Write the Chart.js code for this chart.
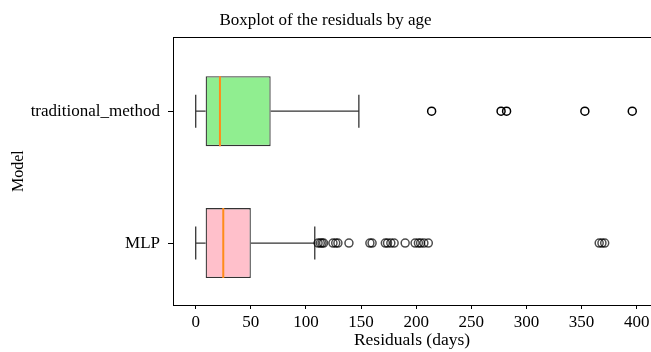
<!DOCTYPE html>
<html>
<head>
<meta charset="utf-8">
<script src="https://cdn.jsdelivr.net/npm/chart.js@4"></script>
<style>
  html, body { margin: 0; padding: 0; background: #fff; }
  #wrap { width: 651px; height: 352px; position: relative; }
</style>
</head>
<body>
<div id="wrap"><canvas id="chart"></canvas></div>
<script>
// Boxplot of residuals, one row per model (y = 1 -> MLP, y = 2 -> traditional_method)
const models = ['MLP', 'traditional_method'];
const boxColors = ['#ffc0cb', '#90ee90'];
const whiskerLow = [0, 0];
const q1 = [9, 9];
const medians = [25, 22];
const q3 = [50, 68];
const whiskerHigh = [108, 148];
const outliersMLP = [111, 113, 114.6, 116, 124.5, 127, 129, 139, 158, 160, 172, 174, 177, 180, 190, 199, 202, 204, 207, 211, 366, 368.5, 371];
const outliersTraditional = [214, 277, 282, 353, 396];
const xTicks = [0, 50, 100, 150, 200, 250, 300, 350, 400];

const BOX_HALF = 0.265;
const CAP_HALF = 0.125;
const FONT = 'Liberation Serif';

Chart.defaults.font.family = FONT;
Chart.defaults.color = '#000';

// build line segments (null points break the line)
function segs(list){
  const out = [];
  list.forEach((s, i) => {
    if(i > 0) out.push({x: null, y: null});
    out.push({x: s[0], y: s[1]}, {x: s[2], y: s[3]});
  });
  return out;
}

const whiskerSegs = [];
const medianSegs = [];
models.forEach((m, i) => {
  const pos = i + 1;
  whiskerSegs.push([whiskerLow[i], pos, q1[i], pos]);
  whiskerSegs.push([q3[i], pos, whiskerHigh[i], pos]);
  whiskerSegs.push([whiskerLow[i], pos - CAP_HALF, whiskerLow[i], pos + CAP_HALF]);
  whiskerSegs.push([whiskerHigh[i], pos - CAP_HALF, whiskerHigh[i], pos + CAP_HALF]);
  medianSegs.push([medians[i], pos - BOX_HALF, medians[i], pos + BOX_HALF]);
});

const ctx = document.getElementById('chart').getContext('2d');
const chart = new Chart(ctx, {
  type: 'scatter',
  data: {
    datasets: [
      {
        type: 'line',
        label: 'median',
        data: segs(medianSegs),
        borderColor: '#ff8c1a',
        borderWidth: 2,
        pointRadius: 0,
        spanGaps: false,
        order: 0
      },
      {
        label: 'outliers MLP',
        data: outliersMLP.map(v => ({x: v, y: 1})),
        pointRadius: 4,
        pointBorderWidth: 1.5,
        borderColor: 'rgba(0,0,0,0.7)',
        backgroundColor: 'rgba(0,0,0,0)',
        order: 1
      },
      {
        label: 'outliers traditional',
        data: outliersTraditional.map(v => ({x: v, y: 2})),
        pointRadius: 4,
        pointBorderWidth: 1.5,
        borderColor: '#000',
        backgroundColor: 'rgba(0,0,0,0)',
        order: 1
      },
      {
        type: 'bar',
        label: 'box',
        indexAxis: 'y',
        data: models.map((m, i) => ({x: [q1[i], q3[i]], y: i + 1})),
        backgroundColor: boxColors,
        borderColor: '#333',
        borderWidth: 1.3,
        borderSkipped: false,
        barPercentage: BOX_HALF * 2,
        categoryPercentage: 1,
        order: 2
      },
      {
        type: 'line',
        label: 'whiskers',
        data: segs(whiskerSegs),
        borderColor: '#333',
        borderWidth: 1.3,
        pointRadius: 0,
        spanGaps: false,
        order: 3
      }
    ]
  },
  options: {
    responsive: true,
    maintainAspectRatio: false,
    animation: false,
    layout: { padding: 0, autoPadding: false },
    plugins: {
      legend: { display: false },
      tooltip: { enabled: false },
      title: {
        display: true,
        text: 'Boxplot of the residuals by age',
        font: { family: FONT, size: 17, weight: 'normal' },
        color: '#000',
        padding: { top: 10, bottom: 7 }
      }
    },
    scales: {
      x: {
        type: 'linear',
        position: 'bottom',
        min: -20.6,
        max: 413,
        afterBuildTicks: s => { s.ticks = xTicks.map(v => ({value: v})); },
        afterFit: s => { s.height = 47; s.paddingLeft = 0; s.paddingRight = 0; },
        grid: { drawOnChartArea: false, tickLength: 4, color: '#000' },
        border: { display: true, color: '#000', width: 1 },
        ticks: { font: { size: 17 }, color: '#000', padding: 3, maxRotation: 0 },
        title: { display: true, text: 'Residuals (days)', font: { size: 17.5 }, color: '#000', padding: { top: 1, bottom: 1.5 } }
      },
      x2: {
        type: 'linear',
        position: 'top',
        min: -20.6,
        max: 413,
        grid: { drawOnChartArea: false, drawTicks: false },
        border: { display: true, color: '#000', width: 1 },
        ticks: { display: false },
        afterFit: s => { s.height = 0; s.paddingLeft = 0; s.paddingRight = 0; }
      },
      y: {
        type: 'linear',
        position: 'left',
        offset: false,
        min: 0.53,
        max: 2.56,
        afterBuildTicks: s => { s.ticks = models.map((m, i) => ({value: i + 1})); },
        afterFit: s => { s.width = 173; s.paddingTop = 0; s.paddingBottom = 0; },
        grid: { drawOnChartArea: false, offset: false, tickLength: 5, color: '#000' },
        border: { display: true, color: '#000', width: 1 },
        ticks: {
          font: { size: 17 },
          color: '#000',
          padding: 8,
          callback: v => models[Math.round(v) - 1] || ''
        },
        title: { display: true, text: 'Model', font: { size: 16 }, color: '#000', padding: { top: 9, bottom: 4 } }
      }
    }
  }
});
</script>
</body>
</html>
